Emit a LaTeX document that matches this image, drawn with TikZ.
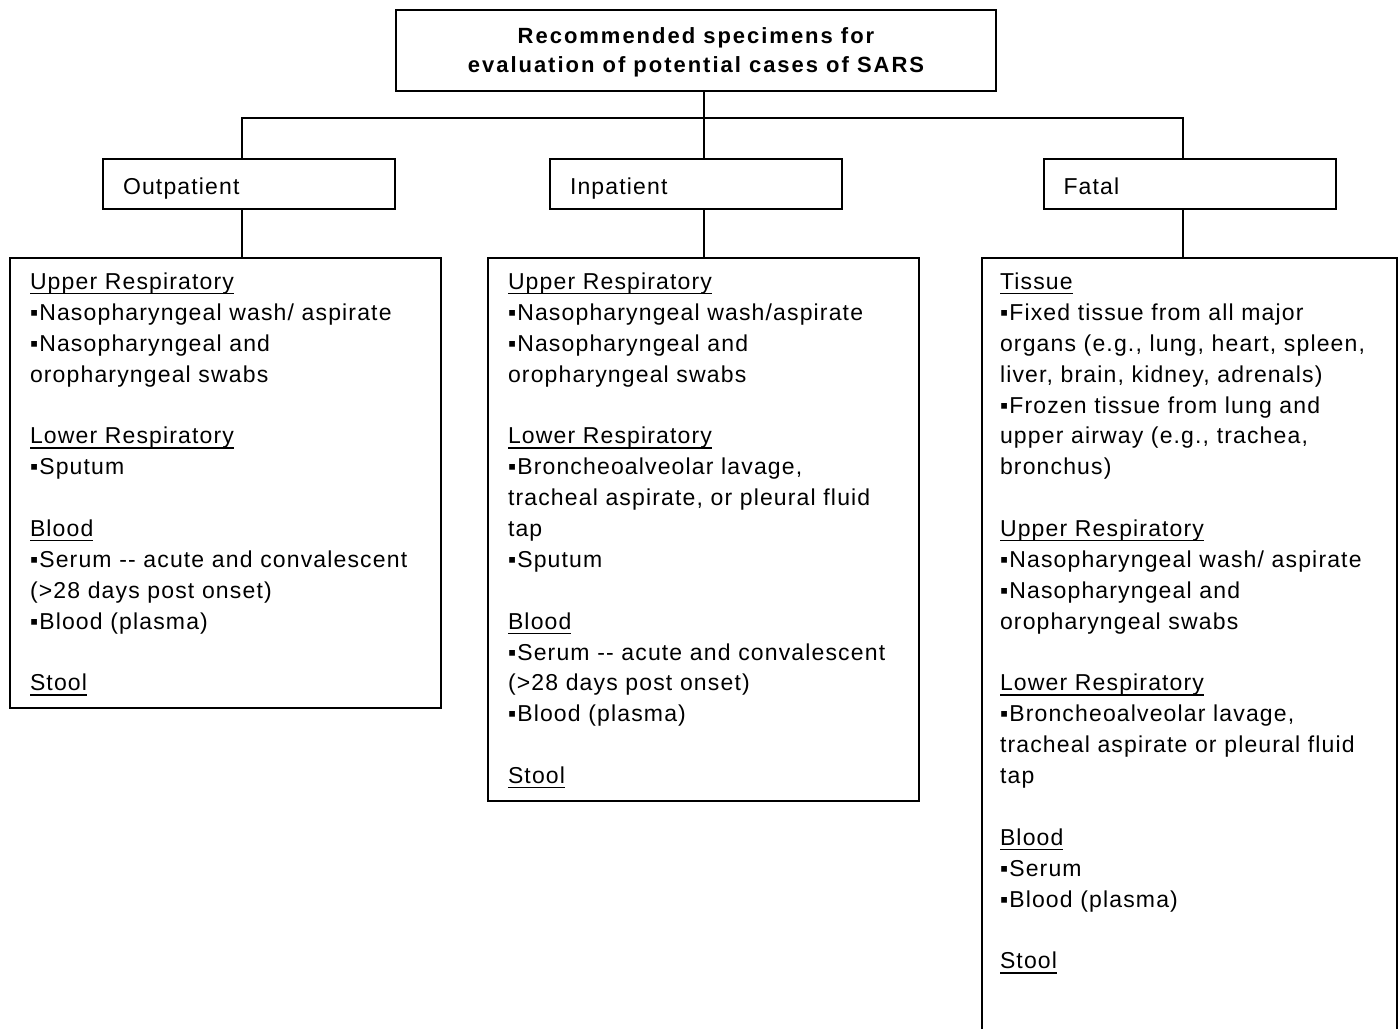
\documentclass[tikz,border=0pt]{standalone}
\usepackage{fontspec}
\setmainfont{Liberation Sans}[LetterSpace=5]
\newfontfamily\titlefont{Liberation Sans}[LetterSpace=9]
\usepackage{tikz}

\newlength{\linegap}
\setlength{\linegap}{15.44pt}
\newcommand{\uhead}[1]{\leavevmode\setbox0=\hbox{#1}\rlap{\rule[-2.4pt]{\wd0}{0.7pt}}\box0}

\begin{document}
\begin{tikzpicture}[x=0.5pt, y=-0.5pt, line width=1pt,
    font=\fontsize{11.5pt}{15.44pt}\selectfont,
    titlebox/.style={draw, align=center, font=\titlefont\fontsize{11pt}{14.5pt}\selectfont\bfseries,
        minimum width=300pt, minimum height=40.5pt, inner sep=0pt,
        text height=23.5pt, text depth=1.5pt},
    groupbox/.style={draw, align=left, text width=126pt, inner xsep=10pt, inner ysep=0pt,
        minimum height=25pt, text height=11pt, text depth=1pt},
    listbox/.style={draw, anchor=north west, align=left, inner xsep=10pt,
        inner ysep=0pt, outer sep=0pt, text height=16pt, text width=195.5pt}]
    \path[use as bounding box] (0,0) rectangle (1400,1028);
    \clip (0,0) rectangle (1400,1028);

    \node[titlebox] at (696, 50.5) (title) {Recommended specimens for\\evaluation of potential cases of SARS};

    \node[groupbox] at (249, 184) (outpat) {Outpatient};
    \node[groupbox] at (696, 184) (inpat) {Inpatient};
    \node[groupbox] at (1189.5, 184) (fatal) {Fatal};

    \node[listbox, text depth=209pt] at (10, 257.5) (outlist) {%
        \uhead{Upper Respiratory}\\
        ▪Nasopharyngeal wash/ aspirate\\
        ▪Nasopharyngeal and\\
        oropharyngeal swabs\\[\linegap]
        \uhead{Lower Respiratory}\\
        ▪Sputum\\[\linegap]
        \uhead{Blood}\\
        ▪Serum -{}- acute and convalescent\\
        (>28 days post onset)\\
        ▪Blood (plasma)\\[\linegap]
        \uhead{Stool}};
    \node[listbox, text depth=255.5pt] at (488, 257.5) (inlist) {%
        \uhead{Upper Respiratory}\\
        ▪Nasopharyngeal wash/aspirate\\
        ▪Nasopharyngeal and\\
        oropharyngeal swabs\\[\linegap]
        \uhead{Lower Respiratory}\\
        ▪Broncheoalveolar lavage,\\
        tracheal aspirate, or pleural fluid\\
        tap\\
        ▪Sputum\\[\linegap]
        \uhead{Blood}\\
        ▪Serum -{}- acute and convalescent\\
        (>28 days post onset)\\
        ▪Blood (plasma)\\[\linegap]
        \uhead{Stool}};
    \node[listbox, inner xsep=9pt, text width=189.5pt, text depth=400pt] at (982, 257.5) (fatlist) {%
        \uhead{Tissue}\\
        ▪Fixed tissue from all major\\
        organs (e.g., lung, heart, spleen,\\
        liver, brain, kidney, adrenals)\\
        ▪Frozen tissue from lung and\\
        upper airway (e.g., trachea,\\
        bronchus)\\[\linegap]
        \uhead{Upper Respiratory}\\
        ▪Nasopharyngeal wash/ aspirate\\
        ▪Nasopharyngeal and\\
        oropharyngeal swabs\\[\linegap]
        \uhead{Lower Respiratory}\\
        ▪Broncheoalveolar lavage,\\
        tracheal aspirate or pleural fluid\\
        tap\\[\linegap]
        \uhead{Blood}\\
        ▪Serum\\
        ▪Blood (plasma)\\[\linegap]
        \uhead{Stool}};

    % bus between the title and the three groups
    \coordinate (busl) at (242, 118);
    \coordinate (busm) at (704, 118);
    \coordinate (busr) at (1183, 118);

    \draw (title.south -| busm) -- (inpat.north -| busm);
    \draw (outpat.north -| busl) -- (busl) -- (busr) -- (fatal.north -| busr);

    \draw (outpat.south -| busl) -- (outlist.north -| busl);
    \draw (inpat.south -| busm) -- (inlist.north -| busm);
    \draw (fatal.south -| busr) -- (fatlist.north -| busr);
\end{tikzpicture}
\end{document}
